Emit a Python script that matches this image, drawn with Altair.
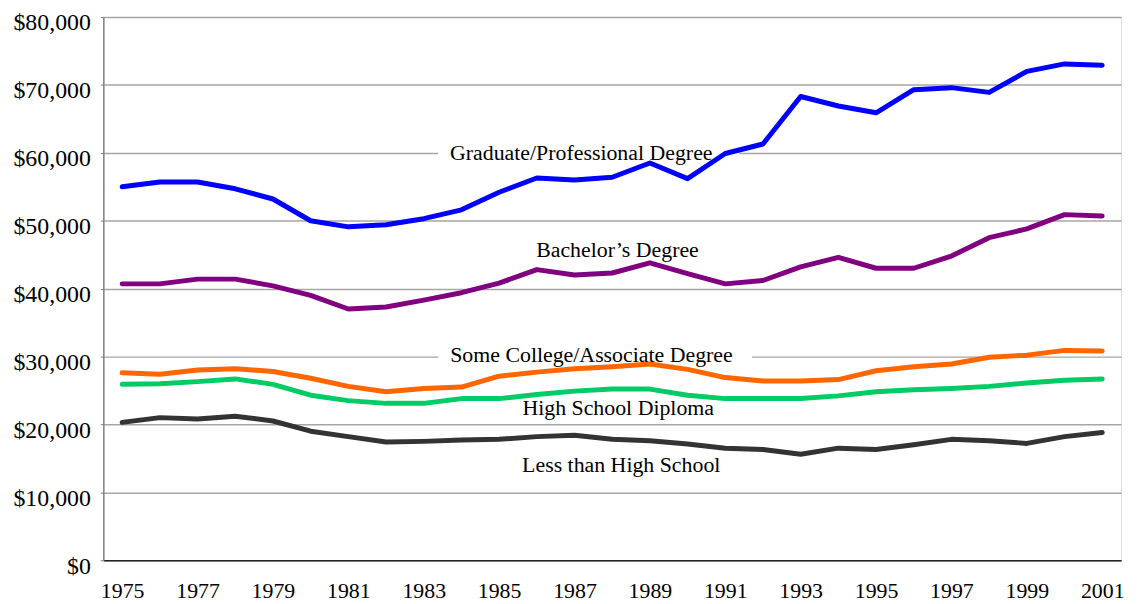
import altair as alt
import pandas as pd

years = list(range(1975, 2002))

graduate = [55.0, 55.7, 55.7, 54.7, 53.2, 50.0, 49.1, 49.4, 50.3, 51.6, 54.2, 56.3, 56.0, 56.4, 58.5,
            56.2, 59.9, 61.3, 68.3, 66.9, 65.9, 69.3, 69.6, 68.9, 72.0, 73.1, 72.9]
bachelor = [40.7, 40.7, 41.4, 41.4, 40.4, 39.0, 37.0, 37.3, 38.3, 39.4, 40.8, 42.8, 42.0, 42.3, 43.8,
            42.2, 40.7, 41.2, 43.2, 44.6, 43.0, 43.0, 44.8, 47.5, 48.8, 50.9, 50.7]
some_college = [27.6, 27.4, 28.0, 28.2, 27.8, 26.8, 25.6, 24.8, 25.3, 25.5, 27.1, 27.7, 28.2, 28.5, 28.9,
                28.1, 26.9, 26.4, 26.4, 26.6, 27.9, 28.5, 28.9, 29.9, 30.2, 30.9, 30.8]
high_school = [25.9, 26.0, 26.3, 26.7, 25.9, 24.3, 23.5, 23.1, 23.1, 23.8, 23.8, 24.4, 24.9, 25.2, 25.2,
               24.3, 23.8, 23.8, 23.8, 24.2, 24.8, 25.1, 25.3, 25.6, 26.1, 26.5, 26.7]
less_hs = [20.3, 21.0, 20.8, 21.2, 20.5, 19.0, 18.2, 17.4, 17.5, 17.7, 17.8, 18.2, 18.4, 17.8, 17.6,
           17.1, 16.5, 16.3, 15.6, 16.5, 16.3, 17.0, 17.8, 17.6, 17.2, 18.2, 18.8]

series_names = ["Graduate/Professional Degree", "Bachelor\u2019s Degree",
                "Some College/Associate Degree", "High School Diploma", "Less than High School"]
series_values = [graduate, bachelor, some_college, high_school, less_hs]
series_colors = ["#0000FF", "#800080", "#FF6600", "#00CC66", "#333333"]

label_x = [1987.18, 1988.14, 1987.45, 1988.16, 1988.24]
label_y = [60000, 45730, 30250, 22380, 14000]
box_x0 = [1983.38, 1988.14, 1983.39, 1988.16, 1988.24]
box_x1 = [1991.37, 1988.14, 1991.71, 1988.16, 1988.24]
box_half = [1700, 0, 1700, 0, 0]

y_ticks = [0, 10000, 20000, 30000, 40000, 50000, 60000, 70000, 80000]
x_ticks = list(range(1975, 2002, 2))

rows = []
for name, vals in zip(series_names, series_values):
    for yr, v in zip(years, vals):
        rows.append({"year": yr, "income": v * 1000, "series": name})
df = pd.DataFrame(rows)

lab = pd.DataFrame({
    "series": series_names, "lx": label_x, "ly": label_y,
    "bx0": box_x0, "bx1": box_x1,
    "by0": [y - h for y, h in zip(label_y, box_half)],
    "by1": [y + h for y, h in zip(label_y, box_half)],
})
boxes = lab[lab["bx1"] > lab["bx0"]]

FONT = "Liberation Serif"

xscale = alt.Scale(domain=[1974.5, 2001.5], nice=False, zero=False)
yscale = alt.Scale(domain=[0, 80000], nice=False)

x_enc = alt.X("year:Q", scale=xscale, title=None,
              axis=alt.Axis(values=x_ticks, format="d", grid=False, ticks=False,
                            labelFont=FONT, labelFontSize=22, labelColor="#000000",
                            labelPadding=21, domainColor="#222222", domainWidth=1.5,
                            labelFlush=False, labelOverlap=False))
y_enc = alt.Y("income:Q", scale=yscale, title=None,
              axis=alt.Axis(values=y_ticks, format="$,d", grid=True, gridColor="#A6A6A6",
                            gridWidth=1.5, ticks=True, tickSize=3, tickColor="#808080",
                            labelFont=FONT, labelFontSize=24, labelColor="#000000",
                            labelPadding=10, labelOffset=6, domainColor="#808080", domainWidth=1.5,
                            labelOverlap=False))

color_scale = alt.Scale(domain=series_names, range=series_colors)

rect = alt.Chart(boxes).mark_rect(color="white").encode(
    x=alt.X("bx0:Q", scale=xscale), x2="bx1:Q",
    y=alt.Y("by0:Q", scale=yscale), y2="by1:Q",
)

lines = alt.Chart(df).mark_line(strokeWidth=5, strokeJoin="round", strokeCap="round").encode(
    x=x_enc, y=y_enc,
    color=alt.Color("series:N", scale=color_scale, legend=None),
    detail="series:N",
)

texts = alt.Chart(lab).mark_text(font=FONT, fontSize=22, color="#000000",
                                 align="center", baseline="middle").encode(
    x=alt.X("lx:Q", scale=xscale),
    y=alt.Y("ly:Q", scale=yscale),
    text="series:N",
)

chart = alt.layer(rect, lines, texts).properties(
    width=1025, height=547,
    autosize=alt.AutoSizeParams(type="none"),
    padding={"left": 96, "top": 7, "right": 9, "bottom": 40},
).configure_view(stroke=None).configure(background="white")

chart.save("out.html", embed_options={"renderer": "svg", "actions": False})
